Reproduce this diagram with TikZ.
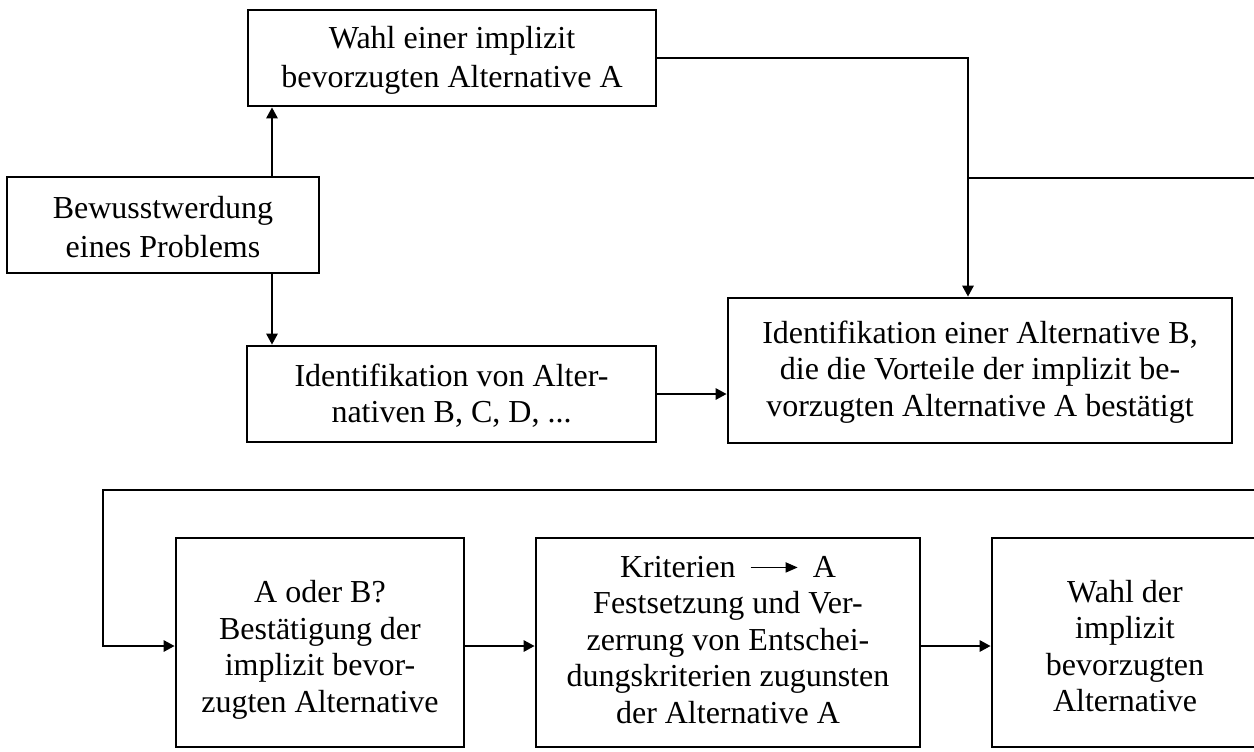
\documentclass[tikz,border=0pt]{standalone}
\usepackage{fontspec}
\setmainfont{Liberation Serif}
\usetikzlibrary{arrows.meta}
% thin arrow used inside the "Kriterien -> A" line
\newcommand{\critarrow}{\tikz[baseline=-5pt]\draw[line width=0.8pt,-{Triangle[length=6pt,width=5pt]}] (0pt,0pt) -- (23.5pt,0pt);}
\begin{document}
\begin{tikzpicture}[x=0.5pt,y=-0.5pt,
  box/.style={draw, line width=1.3pt, inner sep=0pt},
  txt/.style={inner sep=0pt, align=center},
  big/.style={txt, font=\fontsize{16}{19.5}\selectfont},
  small/.style={txt, font=\fontsize{16}{18.25}\selectfont},
  flow/.style={line width=1.3pt, -{Triangle[length=5.5pt,width=5.5pt]}},
  wire/.style={line width=1.3pt}]
\useasboundingbox (0,0) rectangle (1254,751);
\begin{scope}
\clip (0,0) rectangle (1254,751);
% upper part: frames
\node[box, minimum width=204pt, minimum height=48pt] (b1) at (452,58) {};
\node[box, minimum width=156pt, minimum height=48pt] (b2) at (163,225) {};
\node[box, minimum width=204.5pt, minimum height=48pt] (b3) at (451.5,394) {};
\node[box, minimum width=252pt, minimum height=72.5pt] (b4) at (980,370.5) {};
% lower part: frames
\node[box, minimum width=144pt, minimum height=104.5pt] (b5) at (320,642.5) {};
\node[box, minimum width=192pt, minimum height=104.5pt] (b6) at (728,642.5) {};
\node[box, minimum width=133pt, minimum height=104.5pt] (b7) at (1125,642.5) {};

% texts
\node[big] (t1) at (452,60) {Wahl einer implizit\\bevorzugten Alternative A};
\node[big] (t2) at (163,227) {Bewusstwerdung\\eines Problems};
\node[small] (t3) at (451.5,395.5) {Identifikation von Alter-\\nativen B, C, D, ...};
\node[small] (t4) at (980,372) {Identifikation einer Alternative B,\\die die Vorteile der implizit be-\\vorzugten Alternative A bestätigt};
\node[small] (t5) at (320,650) {A oder B?\\Bestätigung der\\implizit bevor-\\zugten Alternative};
\node[small] (t6) at (728,640) {Kriterien\hspace{0.45em}\critarrow\hspace{0.45em}A\\Festsetzung und Ver-\\zerrung von Entschei-\\dungskriterien zugunsten\\der Alternative A};
\node[small] (t7) at (1125,646) {Wahl der\\implizit\\bevorzugten\\Alternative};

% routing points
\coordinate (cx) at (272,0);
\coordinate (rx) at (968,0);
\coordinate (j1) at (968,178);
\coordinate (e1) at (1254,178);
\coordinate (e2) at (1254,490);
\coordinate (k1) at (103,490);
\coordinate (ay) at (0,646);

% connectors
\draw[flow] (b2.north -| cx) -- (b1.south -| cx);
\draw[flow] (b2.south -| cx) -- (b3.north -| cx);
\draw[flow] (b3.east) -- (b3.east -| b4.west);
\draw[flow] (b1.east) -- (b1.east -| rx) -- (b4.north -| rx);
\draw[wire] (j1) -- (e1);
\draw[flow] (e2) -- (k1) -- (k1 |- ay) -- (b5.west |- ay);
\draw[flow] (b5.east |- ay) -- (b6.west |- ay);
\draw[flow] (b6.east |- ay) -- (b7.west |- ay);
\end{scope}
\end{tikzpicture}
\end{document}
